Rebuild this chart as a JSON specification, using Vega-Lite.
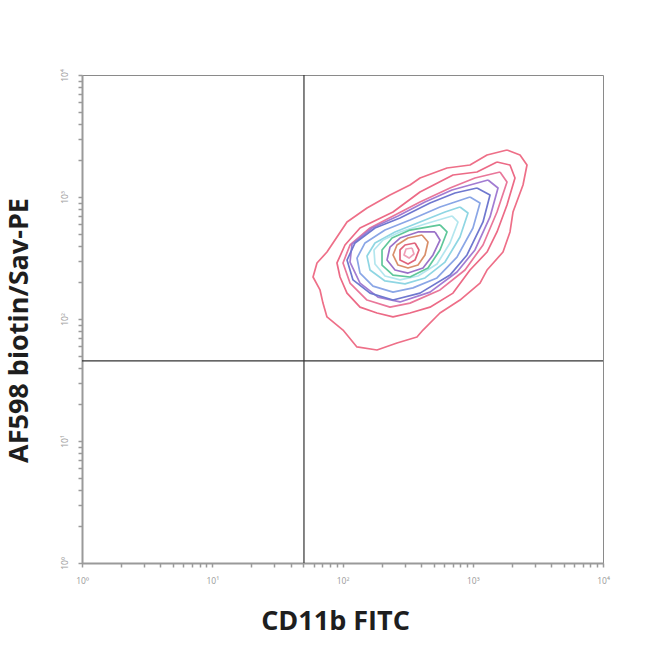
{
  "$schema": "https://vega.github.io/schema/vega-lite/v6.json",
  "autosize": {"type": "none"},
  "padding": {"left": 82, "top": 75, "right": 47, "bottom": 91},
  "width": 521,
  "height": 488,
  "background": "white",
  "config": {
    "view": {"stroke": "#8a8a8a", "strokeWidth": 1},
    "font": "Open Sans",
    "axis": {
      "grid": false,
      "domainColor": "#9a9a9a",
      "domainWidth": 2,
      "tickColor": "#9a9a9a",
      "tickSize": 4,
      "tickWidth": 1.5,
      "labelColor": "#9a9a9a",
      "labelFontSize": 8.5,
      "labelOverlap": false,
      "labelFlush": false,
      "labelBound": false,
      "titleFont": "Open Sans",
      "titleFontWeight": "bold",
      "titleFontSize": 27,
      "titleColor": "#1e1e1e"
    }
  },
  "datasets": {
    "contours": [
      {"c": "c01", "i": 0, "x": 1832, "y": 2428},
      {"c": "c01", "i": 1, "x": 2306, "y": 2210},
      {"c": "c01", "i": 2, "x": 2609, "y": 1829},
      {"c": "c01", "i": 3, "x": 2431, "y": 1254},
      {"c": "c01", "i": 4, "x": 2037, "y": 753},
      {"c": "c01", "i": 5, "x": 1932, "y": 517},
      {"c": "c01", "i": 6, "x": 1707, "y": 354},
      {"c": "c01", "i": 7, "x": 1287, "y": 252},
      {"c": "c01", "i": 8, "x": 1137, "y": 197},
      {"c": "c01", "i": 9, "x": 798, "y": 143},
      {"c": "c01", "i": 10, "x": 560, "y": 112},
      {"c": "c01", "i": 11, "x": 415, "y": 81.2},
      {"c": "c01", "i": 12, "x": 373, "y": 71.2},
      {"c": "c01", "i": 13, "x": 262, "y": 63.6},
      {"c": "c01", "i": 14, "x": 184, "y": 55.7},
      {"c": "c01", "i": 15, "x": 129, "y": 59.0},
      {"c": "c01", "i": 16, "x": 100.9, "y": 81.2},
      {"c": "c01", "i": 17, "x": 76.0, "y": 104},
      {"c": "c01", "i": 18, "x": 70.8, "y": 135},
      {"c": "c01", "i": 19, "x": 67.2, "y": 173},
      {"c": "c01", "i": 20, "x": 59.4, "y": 221},
      {"c": "c01", "i": 21, "x": 63.7, "y": 288},
      {"c": "c01", "i": 22, "x": 76.0, "y": 354},
      {"c": "c01", "i": 23, "x": 108.3, "y": 624},
      {"c": "c01", "i": 24, "x": 154.2, "y": 812},
      {"c": "c01", "i": 25, "x": 231.6, "y": 1038},
      {"c": "c01", "i": 26, "x": 329.8, "y": 1254},
      {"c": "c01", "i": 27, "x": 393.6, "y": 1431},
      {"c": "c01", "i": 28, "x": 634.4, "y": 1728},
      {"c": "c01", "i": 29, "x": 952.6, "y": 1829},
      {"c": "c01", "i": 30, "x": 1287, "y": 2210},
      {"c": "c01", "i": 31, "x": 1832, "y": 2428},

      {"c": "c02", "i": 0, "x": 1535, "y": 1936},
      {"c": "c02", "i": 1, "x": 1932, "y": 1829},
      {"c": "c02", "i": 2, "x": 2110, "y": 1431},
      {"c": "c02", "i": 3, "x": 1832, "y": 860},
      {"c": "c02", "i": 4, "x": 1535, "y": 517},
      {"c": "c02", "i": 5, "x": 1287, "y": 354},
      {"c": "c02", "i": 6, "x": 952.6, "y": 252},
      {"c": "c02", "i": 7, "x": 705.3, "y": 163},
      {"c": "c02", "i": 8, "x": 469.7, "y": 125},
      {"c": "c02", "i": 9, "x": 329.8, "y": 112},
      {"c": "c02", "i": 10, "x": 244.2, "y": 104},
      {"c": "c02", "i": 11, "x": 184.0, "y": 112},
      {"c": "c02", "i": 12, "x": 136.3, "y": 125},
      {"c": "c02", "i": 13, "x": 108.3, "y": 163},
      {"c": "c02", "i": 14, "x": 95.7, "y": 221},
      {"c": "c02", "i": 15, "x": 90.7, "y": 288},
      {"c": "c02", "i": 16, "x": 104.5, "y": 404},
      {"c": "c02", "i": 17, "x": 136.3, "y": 557},
      {"c": "c02", "i": 18, "x": 244.2, "y": 753},
      {"c": "c02", "i": 19, "x": 393.6, "y": 1099},
      {"c": "c02", "i": 20, "x": 705.3, "y": 1515},
      {"c": "c02", "i": 21, "x": 1078, "y": 1603},
      {"c": "c02", "i": 22, "x": 1535, "y": 1936},

      {"c": "c03", "i": 0, "x": 1619, "y": 1603},
      {"c": "c03", "i": 1, "x": 1832, "y": 1327},
      {"c": "c03", "i": 2, "x": 1535, "y": 753},
      {"c": "c03", "i": 3, "x": 1199, "y": 404},
      {"c": "c03", "i": 4, "x": 871.9, "y": 252},
      {"c": "c03", "i": 5, "x": 560.5, "y": 173},
      {"c": "c03", "i": 6, "x": 329.8, "y": 135},
      {"c": "c03", "i": 7, "x": 231.6, "y": 125},
      {"c": "c03", "i": 8, "x": 154.2, "y": 143},
      {"c": "c03", "i": 9, "x": 114.2, "y": 197},
      {"c": "c03", "i": 10, "x": 100.9, "y": 288},
      {"c": "c03", "i": 11, "x": 114.2, "y": 404},
      {"c": "c03", "i": 12, "x": 162.6, "y": 557},
      {"c": "c03", "i": 13, "x": 253.0, "y": 712},
      {"c": "c03", "i": 14, "x": 393.6, "y": 910},
      {"c": "c03", "i": 15, "x": 668.8, "y": 1185},
      {"c": "c03", "i": 16, "x": 1040, "y": 1431},
      {"c": "c03", "i": 17, "x": 1619, "y": 1603},

      {"c": "c04", "i": 0, "x": 1310, "y": 1378},
      {"c": "c04", "i": 1, "x": 1563, "y": 1185},
      {"c": "c04", "i": 2, "x": 1357, "y": 686},
      {"c": "c04", "i": 3, "x": 1040, "y": 368},
      {"c": "c04", "i": 4, "x": 756.9, "y": 243},
      {"c": "c04", "i": 5, "x": 469.7, "y": 166},
      {"c": "c04", "i": 6, "x": 276.4, "y": 138},
      {"c": "c04", "i": 7, "x": 187.3, "y": 151},
      {"c": "c04", "i": 8, "x": 136.3, "y": 197},
      {"c": "c04", "i": 9, "x": 114.2, "y": 293},
      {"c": "c04", "i": 10, "x": 118.3, "y": 412},
      {"c": "c04", "i": 11, "x": 168.5, "y": 557},
      {"c": "c04", "i": 12, "x": 266.8, "y": 699},
      {"c": "c04", "i": 13, "x": 429.9, "y": 910},
      {"c": "c04", "i": 14, "x": 693, "y": 1141},
      {"c": "c04", "i": 15, "x": 1310, "y": 1378},

      {"c": "c05", "i": 0, "x": 1078, "y": 1185},
      {"c": "c05", "i": 1, "x": 1357, "y": 1038},
      {"c": "c05", "i": 2, "x": 1199, "y": 624},
      {"c": "c05", "i": 3, "x": 903.4, "y": 335},
      {"c": "c05", "i": 4, "x": 668.8, "y": 229},
      {"c": "c05", "i": 5, "x": 393.6, "y": 163},
      {"c": "c05", "i": 6, "x": 244.2, "y": 143},
      {"c": "c05", "i": 7, "x": 162.6, "y": 163},
      {"c": "c05", "i": 8, "x": 120.4, "y": 209},
      {"c": "c05", "i": 9, "x": 108.3, "y": 304},
      {"c": "c05", "i": 10, "x": 124.8, "y": 420},
      {"c": "c05", "i": 11, "x": 177.6, "y": 557},
      {"c": "c05", "i": 12, "x": 276.4, "y": 673},
      {"c": "c05", "i": 13, "x": 469.7, "y": 893},
      {"c": "c05", "i": 14, "x": 730.6, "y": 1079},
      {"c": "c05", "i": 15, "x": 1078, "y": 1185},

      {"c": "c06", "i": 0, "x": 952.6, "y": 1000},
      {"c": "c06", "i": 1, "x": 1137, "y": 893},
      {"c": "c06", "i": 2, "x": 1004, "y": 557},
      {"c": "c06", "i": 3, "x": 756.9, "y": 322},
      {"c": "c06", "i": 4, "x": 531.5, "y": 217},
      {"c": "c06", "i": 5, "x": 347.8, "y": 180},
      {"c": "c06", "i": 6, "x": 244.2, "y": 166},
      {"c": "c06", "i": 7, "x": 171.5, "y": 186},
      {"c": "c06", "i": 8, "x": 136.3, "y": 238},
      {"c": "c06", "i": 9, "x": 129.2, "y": 316},
      {"c": "c06", "i": 10, "x": 148.9, "y": 420},
      {"c": "c06", "i": 11, "x": 212.0, "y": 536},
      {"c": "c06", "i": 12, "x": 329.8, "y": 648},
      {"c": "c06", "i": 13, "x": 560.5, "y": 828},
      {"c": "c06", "i": 14, "x": 952.6, "y": 1000},

      {"c": "c07", "i": 0, "x": 798.1, "y": 828},
      {"c": "c07", "i": 1, "x": 919.4, "y": 740},
      {"c": "c07", "i": 2, "x": 798.1, "y": 470},
      {"c": "c07", "i": 3, "x": 612.3, "y": 293},
      {"c": "c07", "i": 4, "x": 429.9, "y": 217},
      {"c": "c07", "i": 5, "x": 301.9, "y": 194},
      {"c": "c07", "i": 6, "x": 212.0, "y": 205},
      {"c": "c07", "i": 7, "x": 162.6, "y": 252},
      {"c": "c07", "i": 8, "x": 154.2, "y": 328},
      {"c": "c07", "i": 9, "x": 177.6, "y": 420},
      {"c": "c07", "i": 10, "x": 253.0, "y": 517},
      {"c": "c07", "i": 11, "x": 393.6, "y": 624},
      {"c": "c07", "i": 12, "x": 612.3, "y": 753},
      {"c": "c07", "i": 13, "x": 798.1, "y": 828},

      {"c": "c08", "i": 0, "x": 693, "y": 699},
      {"c": "c08", "i": 1, "x": 770.5, "y": 624},
      {"c": "c08", "i": 2, "x": 668.8, "y": 420},
      {"c": "c08", "i": 3, "x": 531.5, "y": 282},
      {"c": "c08", "i": 4, "x": 379.9, "y": 225},
      {"c": "c08", "i": 5, "x": 276.4, "y": 209},
      {"c": "c08", "i": 6, "x": 212.0, "y": 225},
      {"c": "c08", "i": 7, "x": 177.6, "y": 282},
      {"c": "c08", "i": 8, "x": 174.5, "y": 368},
      {"c": "c08", "i": 9, "x": 204.6, "y": 444},
      {"c": "c08", "i": 10, "x": 276.4, "y": 517},
      {"c": "c08", "i": 11, "x": 429.9, "y": 601},
      {"c": "c08", "i": 12, "x": 693, "y": 699},

      {"c": "c09", "i": 0, "x": 560.5, "y": 590},
      {"c": "c09", "i": 1, "x": 634.4, "y": 517},
      {"c": "c09", "i": 2, "x": 560.5, "y": 368},
      {"c": "c09", "i": 3, "x": 453.4, "y": 262},
      {"c": "c09", "i": 4, "x": 329.8, "y": 221},
      {"c": "c09", "i": 5, "x": 244.2, "y": 229},
      {"c": "c09", "i": 6, "x": 201.1, "y": 277},
      {"c": "c09", "i": 7, "x": 201.1, "y": 368},
      {"c": "c09", "i": 8, "x": 239.9, "y": 461},
      {"c": "c09", "i": 9, "x": 329.8, "y": 536},
      {"c": "c09", "i": 10, "x": 560.5, "y": 590},

      {"c": "c10", "i": 0, "x": 513.1, "y": 517},
      {"c": "c10", "i": 1, "x": 560.5, "y": 444},
      {"c": "c10", "i": 2, "x": 495.3, "y": 335},
      {"c": "c10", "i": 3, "x": 415.0, "y": 262},
      {"c": "c10", "i": 4, "x": 318.4, "y": 238},
      {"c": "c10", "i": 5, "x": 253.0, "y": 252},
      {"c": "c10", "i": 6, "x": 219.6, "y": 304},
      {"c": "c10", "i": 7, "x": 231.6, "y": 389},
      {"c": "c10", "i": 8, "x": 276.4, "y": 461},
      {"c": "c10", "i": 9, "x": 379.9, "y": 517},
      {"c": "c10", "i": 10, "x": 513.1, "y": 517},

      {"c": "c11", "i": 0, "x": 407.8, "y": 488},
      {"c": "c11", "i": 1, "x": 453.4, "y": 428},
      {"c": "c11", "i": 2, "x": 429.9, "y": 335},
      {"c": "c11", "i": 3, "x": 379.9, "y": 277},
      {"c": "c11", "i": 4, "x": 318.4, "y": 262},
      {"c": "c11", "i": 5, "x": 266.8, "y": 277},
      {"c": "c11", "i": 6, "x": 244.2, "y": 335},
      {"c": "c11", "i": 7, "x": 262.1, "y": 404},
      {"c": "c11", "i": 8, "x": 318.4, "y": 461},
      {"c": "c11", "i": 9, "x": 407.8, "y": 488},

      {"c": "c12", "i": 0, "x": 360.4, "y": 420},
      {"c": "c12", "i": 1, "x": 386.6, "y": 368},
      {"c": "c12", "i": 2, "x": 360.4, "y": 304},
      {"c": "c12", "i": 3, "x": 318.4, "y": 282},
      {"c": "c12", "i": 4, "x": 276.4, "y": 304},
      {"c": "c12", "i": 5, "x": 276.4, "y": 368},
      {"c": "c12", "i": 6, "x": 301.9, "y": 404},
      {"c": "c12", "i": 7, "x": 360.4, "y": 420},

      {"c": "c13", "i": 0, "x": 341.7, "y": 382},
      {"c": "c13", "i": 1, "x": 353.9, "y": 341},
      {"c": "c13", "i": 2, "x": 324.1, "y": 316},
      {"c": "c13", "i": 3, "x": 296.6, "y": 335},
      {"c": "c13", "i": 4, "x": 307.3, "y": 375},
      {"c": "c13", "i": 5, "x": 341.7, "y": 382}
    ],
    "gates": [{"gx": 50.6, "gy": 45.3}]
  },
  "layer": [
    {
      "data": {"name": "contours"},
      "mark": {"type": "line", "strokeWidth": 1.7, "interpolate": "linear", "strokeJoin": "round"},
      "encoding": {
        "x": {
          "field": "x", "type": "quantitative",
          "scale": {"type": "log", "domain": [1, 10000], "nice": false},
          "title": "CD11b FITC",
          "axis": {
            "values": [1,2,3,4,5,6,7,8,9,10,20,30,40,50,60,70,80,90,100,200,300,400,500,600,700,800,900,1000,2000,3000,4000,5000,6000,7000,8000,9000,10000],
            "labelExpr": "abs(log(datum.value)/LN10 - round(log(datum.value)/LN10)) < 0.001 ? '10' + ['⁰','¹','²','³','⁴'][round(log(datum.value)/LN10)] : ''",
            "labelPadding": 9,
            "titlePadding": 24,
            "titleX": 253
          }
        },
        "y": {
          "field": "y", "type": "quantitative",
          "scale": {"type": "log", "domain": [1, 10000], "nice": false},
          "title": "AF598 biotin/Sav-PE",
          "axis": {
            "values": [1,2,3,4,5,6,7,8,9,10,20,30,40,50,60,70,80,90,100,200,300,400,500,600,700,800,900,1000,2000,3000,4000,5000,6000,7000,8000,9000,10000],
            "labelExpr": "abs(log(datum.value)/LN10 - round(log(datum.value)/LN10)) < 0.001 ? '10' + ['⁰','¹','²','³','⁴'][round(log(datum.value)/LN10)] : ''",
            "labelAngle": -90,
            "labelPadding": 9,
            "titlePadding": 27,
            "titleY": 255
          }
        },
        "detail": {"field": "c"},
        "order": {"field": "i", "type": "quantitative"},
        "color": {
          "field": "c", "type": "nominal", "legend": null,
          "scale": {
            "domain": ["c01","c02","c03","c04","c05","c06","c07","c08","c09","c10","c11","c12","c13"],
            "range": ["#ee6f88","#ec6a86","#e9779a","#a27cd2","#6f78cf","#8aa6e6","#8fd6e3","#b3e6ee","#5fc79a","#9a72c8","#d98f6a","#e0647c","#f0a0b8"]
          }
        }
      }
    },
    {
      "data": {"name": "gates"},
      "mark": {"type": "rule", "color": "#333333", "strokeWidth": 1.2},
      "encoding": {"x": {"field": "gx", "type": "quantitative"}}
    },
    {
      "data": {"name": "gates"},
      "mark": {"type": "rule", "color": "#333333", "strokeWidth": 1.2},
      "encoding": {"y": {"field": "gy", "type": "quantitative"}}
    }
  ]
}
